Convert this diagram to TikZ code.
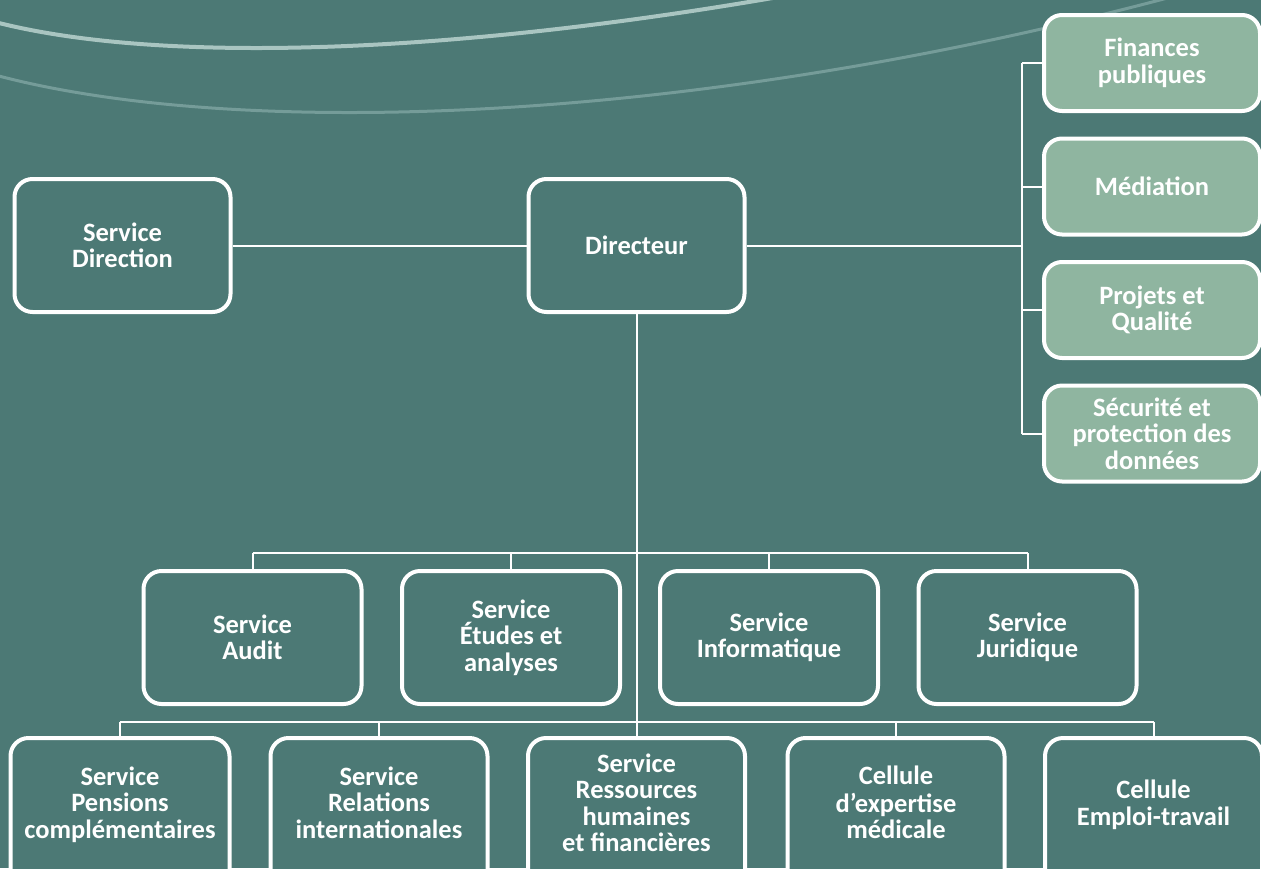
\documentclass[tikz,border=0pt]{standalone}
\usepackage{fontspec}
\setmainfont{Carlito}
\definecolor{bg}{HTML}{4C7975}
\definecolor{greenbox}{HTML}{8FB5A0}
\definecolor{arcA}{HTML}{A9C5C1}
\definecolor{arcB}{HTML}{759C99}
\newcommand{\mlines}[1]{\raisebox{0pt}[\height][\dimexpr\depth+29pt\relax]{\begin{tabular}{@{}c@{}}#1\end{tabular}}}
\begin{document}
\begin{tikzpicture}[x=1pt,y=-1pt,
  box/.style={draw=white, line width=4pt, rounded corners=18pt, fill=bg,
    text=white, font=\fontsize{26.5}{26.5}\selectfont\bfseries, align=center,
    inner sep=1pt, minimum width=216pt, minimum height=133pt},
  gbox/.style={box, fill=greenbox, minimum height=96pt},
  lowbox/.style={box, minimum width=217pt, minimum height=166pt},
  conn/.style={draw=white, line width=2pt}]
\fill[bg] (0,0) rectangle (1261,868);
\useasboundingbox (0,0) rectangle (1261,868);
% decorative arcs
\draw[arcA, line width=4pt] (-5,22) .. controls (150,62) and (430,58) .. (790,-5);
\draw[arcB, line width=3pt] (-5,75) .. controls (230,138) and (680,128) .. (1175,-4);
% top row
\node[box] (sd) at (122.5,245.5) {Service\\Direction};
\node[box] (dir) at (636.5,245.5) {Directeur};
% right column
\node[gbox] (fin) at (1152,63) {Finances\\publiques};
\node[gbox] (med) at (1152,186.5) {Médiation};
\node[gbox] (pq) at (1152,310) {Projets et\\Qualité};
\node[gbox] (sec) at (1152,433.5) {Sécurité et\\protection des\\données};
% middle row
\node[box, minimum width=218pt] (aud) at (252.5,637.5) {Service\\Audit};
\node[box, minimum width=218pt] (etu) at (511,637.5) {Service\\Études et\\analyses};
\node[box, minimum width=218pt] (inf) at (769,637.5) {Service\\Informatique};
\node[box, minimum width=218pt] (jur) at (1027.5,637.5) {Service\\Juridique};
% bottom row
\node[lowbox, minimum width=219pt] (pen) at (120,821) {\mlines{Service\\Pensions\\complémentaires}};
\node[lowbox] (rel) at (379,821) {\mlines{Service\\Relations\\internationales}};
\node[lowbox] (res) at (636.5,821) {\mlines{Service\\Ressources\\humaines\\et financières}};
\node[lowbox] (exp) at (896,821) {\mlines{Cellule\\d’expertise\\médicale}};
\node[lowbox] (emp) at (1153.5,821) {\mlines{Cellule\\Emploi-travail}};
% connectors
\coordinate (rb) at (1022,245.5);
\coordinate (b1) at (636.5,553);
\coordinate (b2) at (636.5,722);
\draw[conn] (sd.east) -- (dir.west);
\draw[conn] (dir.east) -- (rb);
\draw[conn] (fin.west -| rb) -- (sec.west -| rb);
\foreach \n in {fin,med,pq,sec} \draw[conn] (\n.west -| rb) -- (\n.west);
\draw[conn] (dir.south) -- (res.north);
\draw[conn] (aud.north |- b1) -- (jur.north |- b1);
\foreach \n in {aud,etu,inf,jur} \draw[conn] (\n.north |- b1) -- (\n.north);
\draw[conn] (pen.north |- b2) -- (emp.north |- b2);
\foreach \n in {pen,rel,exp,emp} \draw[conn] (\n.north |- b2) -- (\n.north);
\end{tikzpicture}
\end{document}
